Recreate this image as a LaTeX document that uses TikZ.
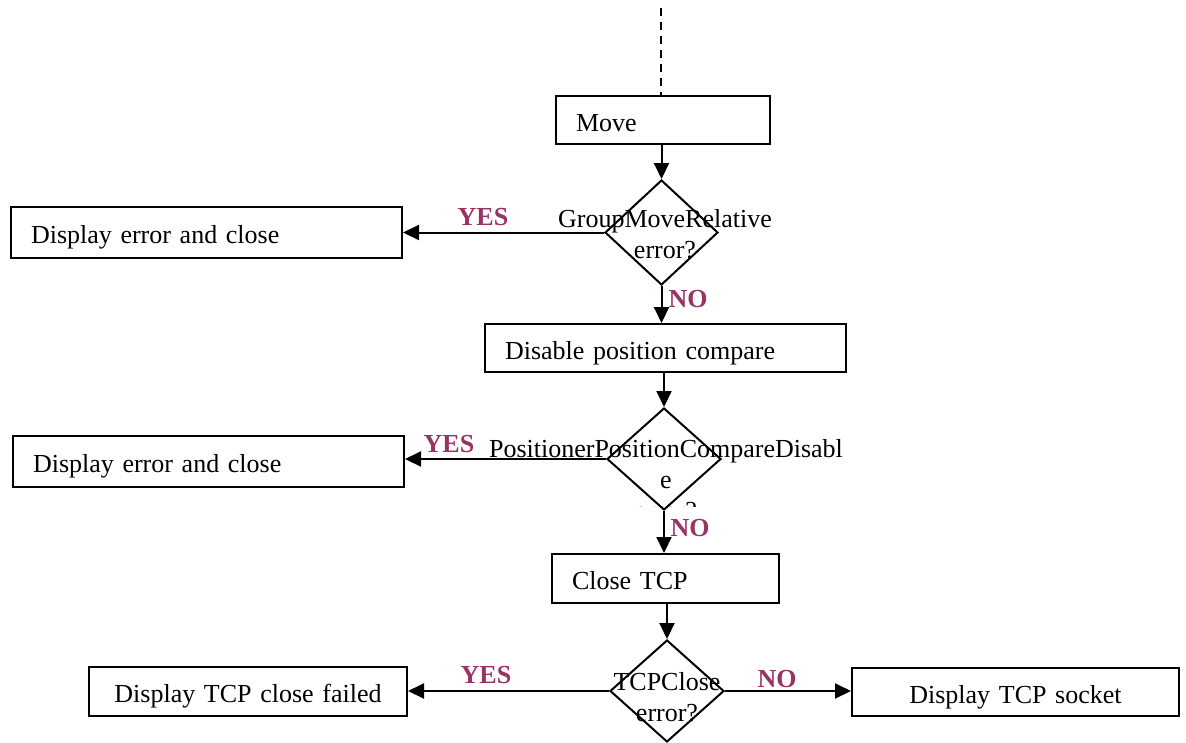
\documentclass[tikz,border=0pt]{standalone}
\usepackage{fontspec}
\setmainfont{Liberation Serif}
\usetikzlibrary{shapes.geometric,arrows.meta}
\definecolor{lbl}{HTML}{993366}
\begin{document}
\begin{tikzpicture}[x=1pt,y=-1pt,
  every node/.style={font=\fontsize{26}{31}\selectfont},
  box/.style={draw, line width=2pt, anchor=north west, inner xsep=20pt, inner ysep=0pt, align=left, text height=22pt, text depth=0pt},
  dia/.style={draw, diamond, line width=2pt, inner sep=0pt},
  dtext/.style={align=center, inner sep=0pt},
  yn/.style={text=lbl, font=\fontsize{26}{30}\bfseries\selectfont, inner sep=0pt},
  arr/.style={line width=2pt, -{Triangle[length=16pt,width=15pt]}},
  ln/.style={line width=2pt}
]
\useasboundingbox (0,0) rectangle (1186,742);
% boxes
\node[box, minimum width=214pt, minimum height=48pt, text width=174pt] (move) at (555,95) {Move};
\node[box, minimum width=391pt, minimum height=51pt, text width=351pt] (err1) at (10,206) {Display error and close};
\node[box, minimum width=361pt, minimum height=48pt, text width=321pt] (dis) at (484,323) {Disable position compare};
\node[box, minimum width=391pt, minimum height=51pt, text width=351pt] (err2) at (12,435) {Display error and close};
\node[box, minimum width=227pt, minimum height=49pt, text width=187pt] (close) at (551,553) {Close TCP};
\node[box, minimum width=318pt, minimum height=49pt, text width=278pt, align=center] (fail) at (88,666) {Display TCP close failed};
\node[box, minimum width=327pt, minimum height=48pt, text width=287pt, align=center] (sock) at (851,667) {Display TCP socket};
% diamonds
\node[dia, minimum width=113pt, minimum height=105pt] (d1) at (661.5,232.5) {};
\node[dia, minimum width=114pt, minimum height=102pt] (d2) at (664,459) {};
\node[dia, minimum width=114pt, minimum height=102pt] (d3) at (667,691) {};
% diamond texts
\node[dtext] (t1) at (665,234) {GroupMoveRelative\\error?};
\begin{scope}
\clip (0,0) rectangle (1186,506);
\node[dtext] (t2) at (666,480) {PositionerPositionCompareDisabl\\e\\error?};
\end{scope}
\node[dtext] (t3) at (667,697) {TCPClose\\error?};
% top dashed
\coordinate (top) at (661,8);
\draw[ln, line width=1.6pt, dash pattern=on 8pt off 6pt] (top) -- (top|-move.north);
% connectors
\draw[arr] (move.south -| d1.north) -- (d1.north);
\draw[arr] (d1.west) -- (err1.east |- d1.west);
\draw[arr] (d1.south) -- (d1.south |- dis.north);
\draw[arr] (dis.south -| d2.north) -- (d2.north);
\draw[arr] (d2.west) -- (err2.east |- d2.west);
\draw[arr] (d2.south) -- (d2.south |- close.north);
\draw[arr] (close.south -| d3.north) -- (d3.north);
\draw[arr] (d3.west) -- (fail.east |- d3.west);
\draw[arr] (d3.east) -- (sock.west |- d3.east);
% labels
\node[yn] (y1) at (483,217) {YES};
\node[yn] (n1) at (688,299) {NO};
\node[yn] (y2) at (449,444) {YES};
\node[yn] (n2) at (690,528) {NO};
\node[yn] (y3) at (486,675) {YES};
\node[yn] (n3) at (777,679) {NO};
\end{tikzpicture}
\end{document}
